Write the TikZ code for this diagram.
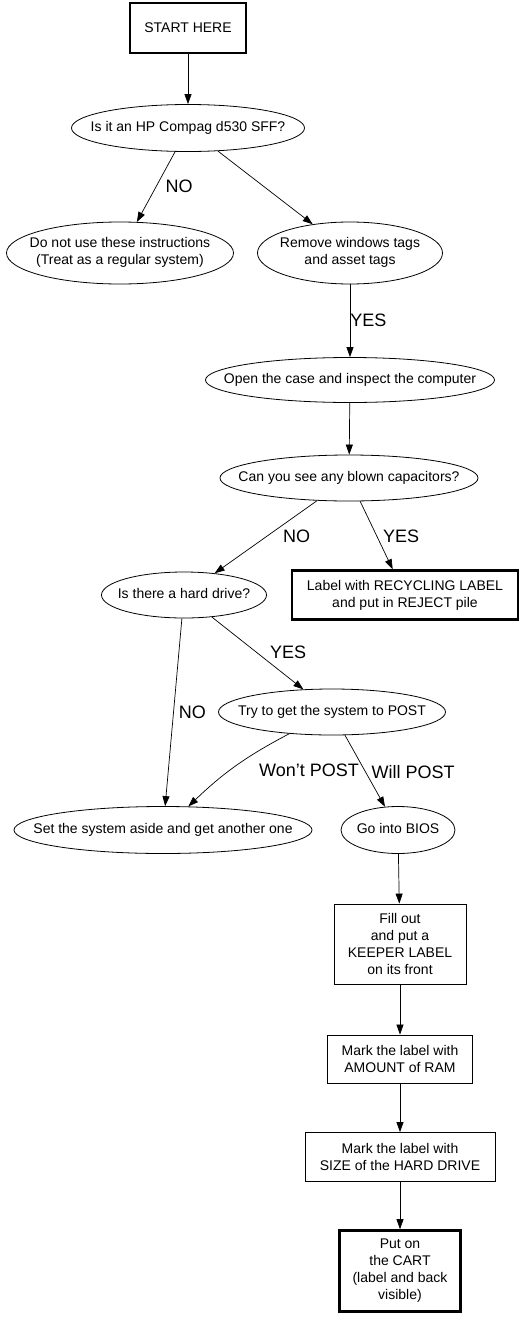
\documentclass[tikz,border=0pt]{standalone}
\usepackage{fontspec}
\setmainfont{Liberation Sans}
\usetikzlibrary{shapes.geometric, arrows.meta}

% text of an ellipse, kept out of the shape's size
\newcommand{\qlines}[1]{\makebox[0pt]{\begin{tabular}{@{}c@{}}#1\end{tabular}}}

\begin{document}
\begin{tikzpicture}[x=1pt, y=-1pt,
    font=\fontsize{14}{17}\selectfont,
    question/.style={ellipse, draw, inner sep=0pt, line width=0.8pt},
    stepbox/.style={rectangle, draw, inner sep=0pt, align=center, line width=0.8pt},
    endbox/.style={stepbox, line width=2.6pt},
    flow/.style={-{Triangle[length=10pt, width=7pt]}, line width=0.7pt},
    answer/.style={font=\fontsize{18}{20}\selectfont, inner sep=0pt, anchor=west}]
    \useasboundingbox (0,0) rectangle (527,1317);

    % --- Top: which machine ---
    \node[endbox, minimum width=116, minimum height=50] (start) at (188,28) {START HERE};
    \node[question, minimum width=233, minimum height=47] (isd530) at (188,128) {\qlines{Is it an HP Compag d530 SFF?}};
    \node[question, minimum width=227, minimum height=62] (notours) at (120,253) {\qlines{Do not use these instructions\\(Treat as a regular system)}};
    \node[question, minimum width=185, minimum height=62] (tags) at (350,253) {\qlines{Remove windows tags\\and asset tags}};

    % --- Middle: inspection ---
    \node[question, minimum width=289, minimum height=45] (opencase) at (350,380) {\qlines{Open the case and inspect the computer}};
    \node[question, minimum width=258, minimum height=46] (caps) at (349,478) {\qlines{Can you see any blown capacitors?}};
    \node[question, minimum width=165, minimum height=46] (harddrive) at (184,595) {\qlines{Is there a hard drive?}};
    \node[endbox, minimum width=226, minimum height=49] (reject) at (405,595) {Label with RECYCLING LABEL\\and put in REJECT pile};
    \node[question, minimum width=227, minimum height=46] (post) at (332,712) {\qlines{Try to get the system to POST}};
    \node[question, minimum width=298, minimum height=47] (aside) at (163,830) {\qlines{Set the system aside and get another one}};
    \node[question, minimum width=114, minimum height=47] (bios) at (398,830) {\qlines{Go into BIOS}};

    % --- Bottom: labelling ---
    \node[stepbox, minimum width=132, minimum height=80] (keeper) at (400,944) {Fill out\\and put a\\KEEPER LABEL\\on its front};
    \node[stepbox, minimum width=145, minimum height=48] (ram) at (400,1059) {Mark the label with\\AMOUNT of RAM};
    \node[stepbox, minimum width=190, minimum height=49] (disk) at (400,1157) {Mark the label with\\SIZE of the HARD DRIVE};
    \node[endbox, minimum width=121, minimum height=81] (cart) at (400,1271) {Put on\\the CART\\(label and back\\visible)};

    % --- Connectors ---
    \draw[flow] (start) -- (isd530);
    \draw[flow] (isd530) -- node[answer, pos=0.49, xshift=9pt] {NO} (notours);
    \draw[flow] (isd530) -- (tags);
    \draw[flow] (tags) -- node[answer, pos=0.49] {YES} (opencase);
    \draw[flow] (opencase) -- (caps);
    \draw[flow] (caps) -- node[answer, pos=0.49, xshift=16pt] {NO} (harddrive);
    \draw[flow] (caps) -- node[answer, pos=0.51, xshift=6pt] {YES} (reject);
    \draw[flow] (harddrive) -- node[answer, pos=0.5, xshift=5pt] {NO} (aside);
    \draw[flow] (harddrive) -- node[answer, pos=0.49, xshift=13pt] {YES} (post);
    \draw[flow] (post) to[bend right=8] node[answer, pos=0.5, xshift=23pt, yshift=-4pt] {Won't POST} (aside);
    \draw[flow] (post) -- node[answer, pos=0.51, xshift=6pt] {Will POST} (bios);
    \draw[flow] (bios) -- (keeper);
    \draw[flow] (keeper) -- (ram);
    \draw[flow] (ram) -- (disk);
    \draw[flow] (disk) -- (cart);
\end{tikzpicture}
\end{document}
